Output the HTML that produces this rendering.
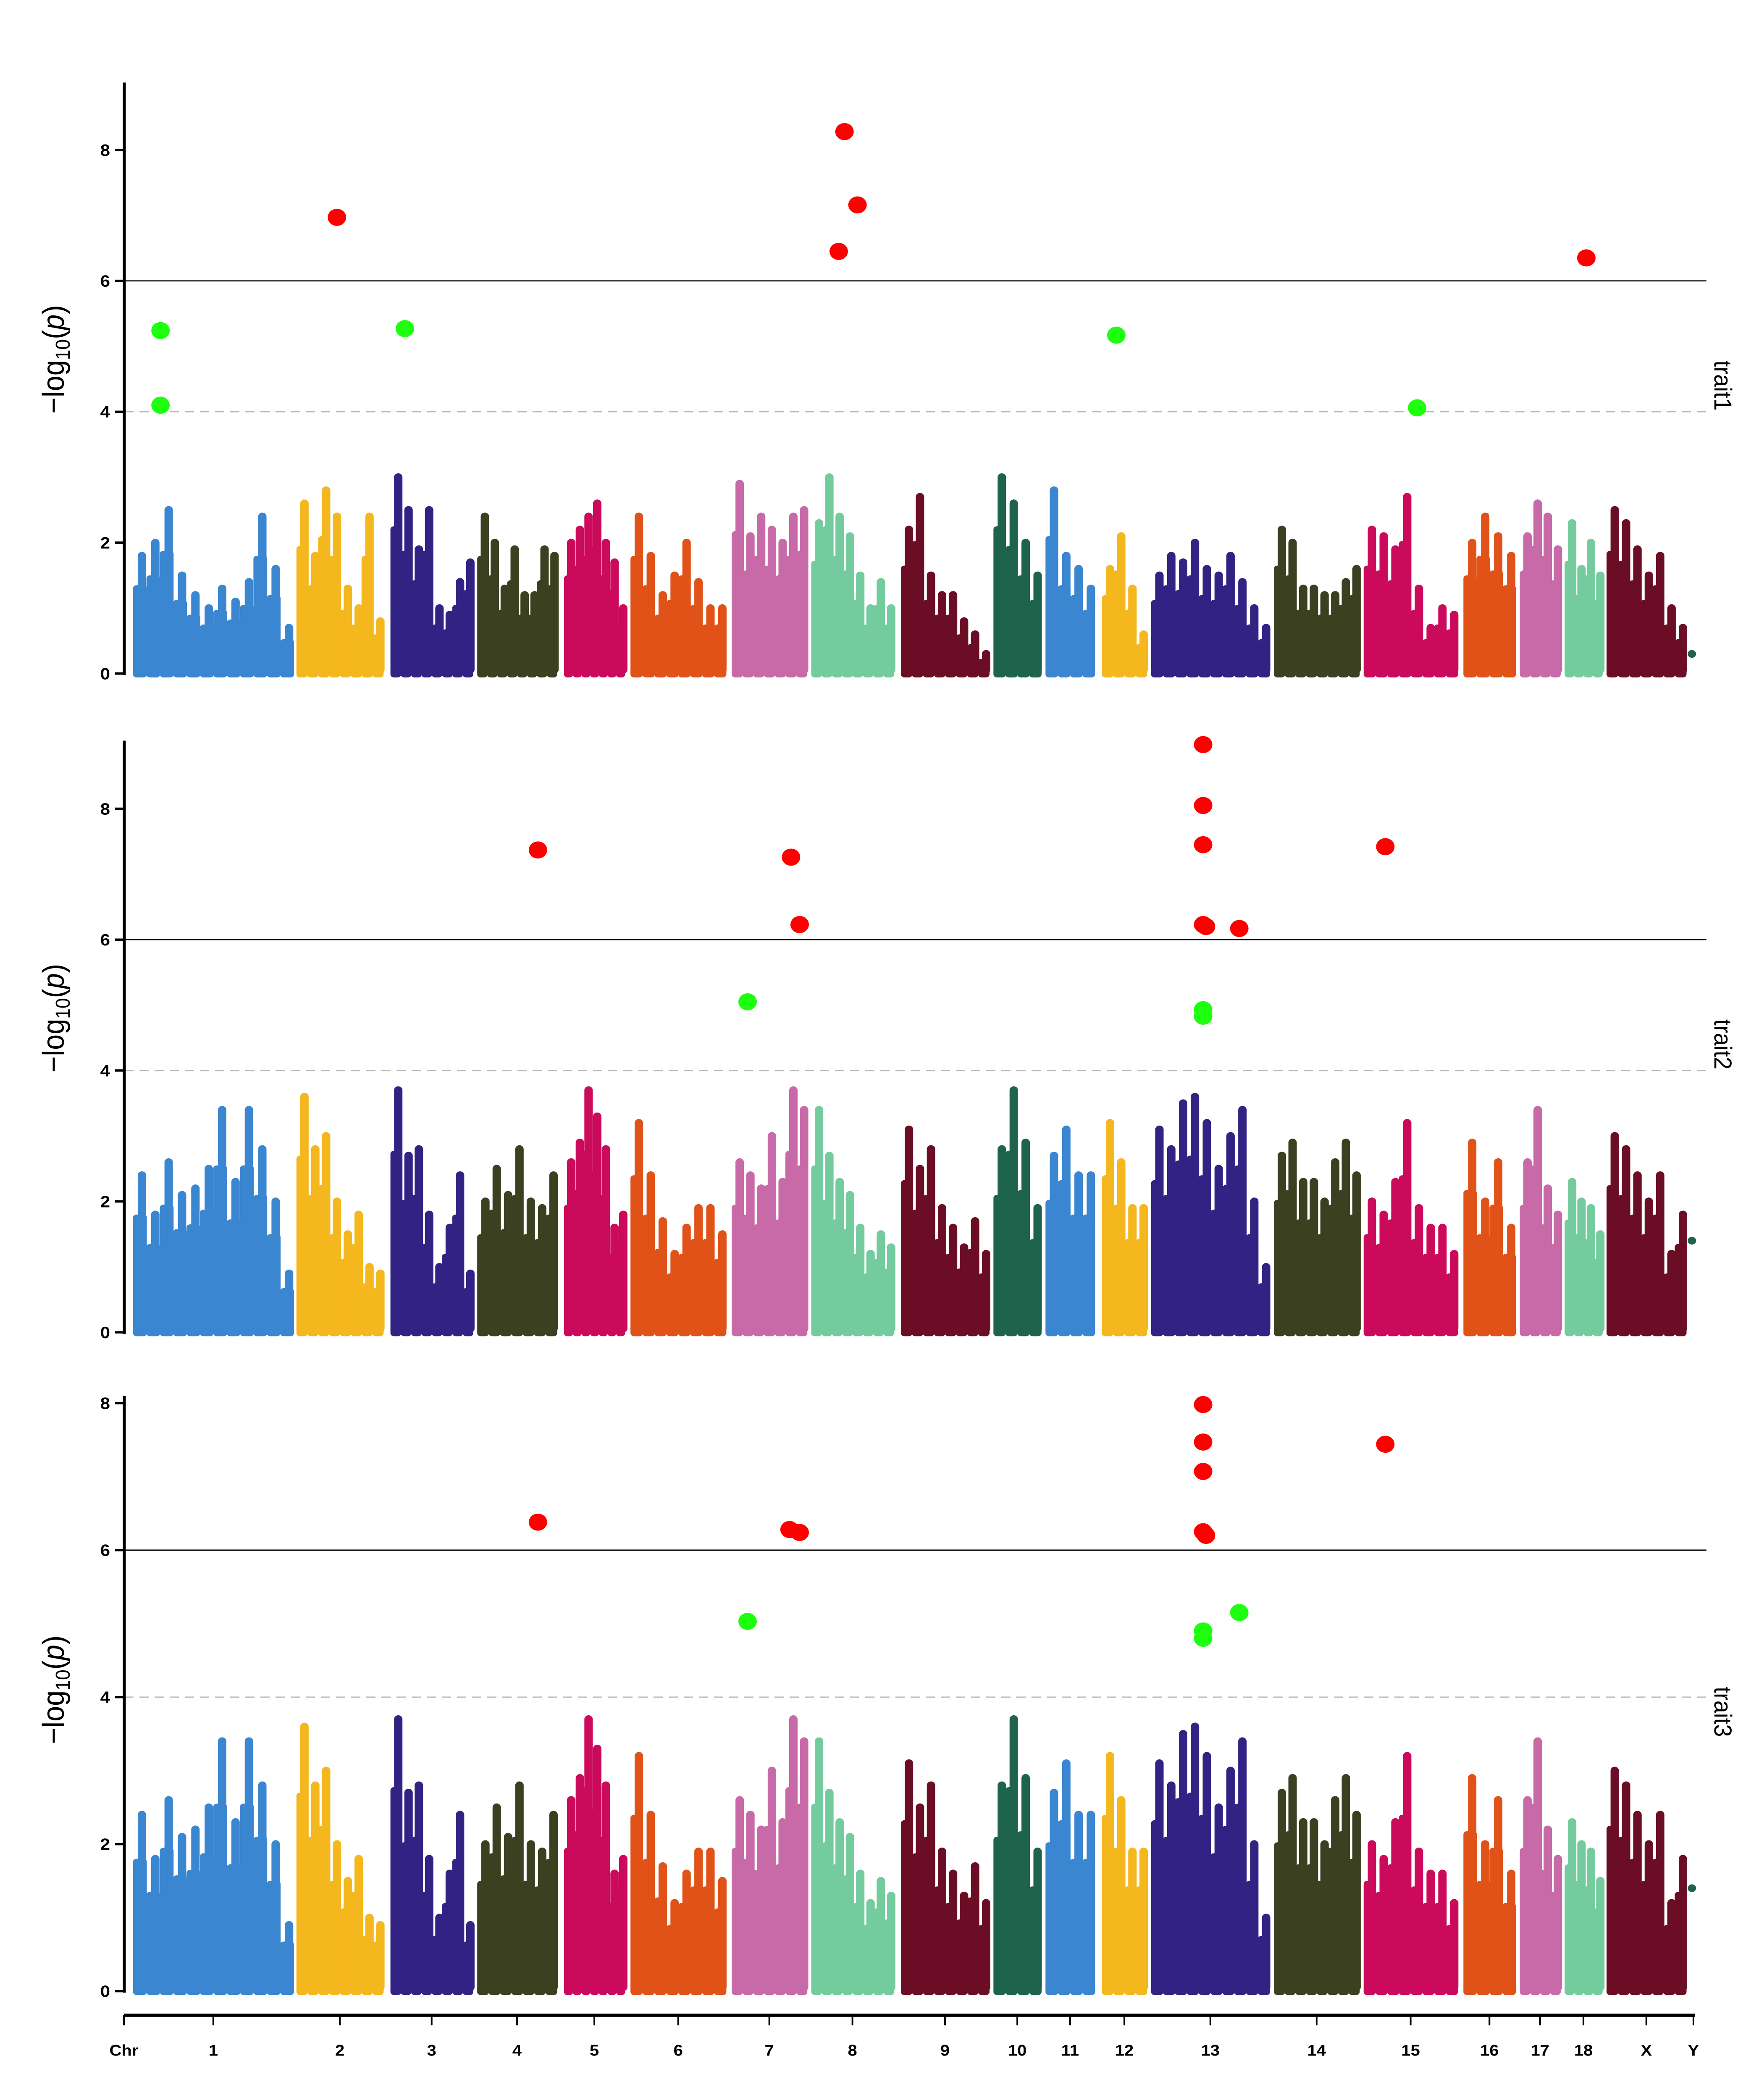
<!DOCTYPE html>
<html><head><meta charset="utf-8"><style>
html,body{margin:0;padding:0;background:#fff;width:100%;height:100%;overflow:hidden}
svg{display:block;position:absolute;left:0;top:0;width:100vw;height:100vh}
text{font-family:"Liberation Sans",sans-serif}
</style></head><body>
<svg id="chart" viewBox="0 0 4200 5400" preserveAspectRatio="none" xmlns="http://www.w3.org/2000/svg"></svg>
<script>
// ---- data ----
const chrNames = ["1","2","3","4","5","6","7","8","9","10","11","12","13","14","15","16","17","18","X","Y"];
const chrStart = [92,205,270,330,390,436,506,561,623,687,723,762,796,881,943,1012,1051,1082,1111,1168];
const chrEnd   = [203,265,327,385,432,502,558,618,684,720,757,793,878,940,1008,1048,1079,1108,1166,1172];
const chrColors = ["#3a86d0","#f4b71d","#312283","#3a4020","#cc0a5c","#e05218","#c86aa8","#74cc9e","#6a0d25","#1e634b","#3a86d0","#f4b71d","#312283","#3a4020","#cc0a5c","#e05218","#c86aa8","#74cc9e","#6a0d25","#1e634b"];
const trait1Profile = [
 [1.8,2.0,2.5,1.5,1.2,1.0,1.3,1.1,1.4,2.4,1.6,0.7],
 [2.6,1.8,2.8,2.4,1.3,1.0,2.4,0.8],
 [3.0,2.5,1.9,2.5,1.0,0.9,1.4,1.7],
 [2.4,2.0,1.3,1.9,1.2,1.2,1.9,1.8],
 [2.0,2.2,2.4,2.6,2.0,1.7,1.0],
 [2.4,1.8,1.2,1.5,2.0,1.4,1.0,1.0],
 [2.9,2.1,2.4,2.2,2.0,2.4,2.5],
 [2.3,3.0,2.4,2.1,1.5,1.0,1.4,1.0],
 [2.2,2.7,1.5,1.2,1.2,0.8,0.6,0.3],
 [3.0,2.6,2.0,1.5],
 [2.8,1.8,1.6,1.3],
 [1.6,2.1,1.3,0.6],
 [1.5,1.8,1.7,2.0,1.6,1.5,1.8,1.4,1.0,0.7],
 [2.2,2.0,1.3,1.3,1.2,1.2,1.4,1.6],
 [2.2,2.1,1.9,2.7,1.3,0.7,1.0,0.9],
 [2.0,2.4,2.1,1.8],
 [2.1,2.6,2.4,1.9],
 [2.3,1.6,2.0,1.5],
 [2.5,2.3,1.9,1.5,1.8,1.0,0.7],
 [0.3]];
const trait2Profile = [
 [2.4,1.8,2.6,2.1,2.2,2.5,3.4,2.3,3.4,2.8,2.0,0.9],
 [3.6,2.8,3.0,2.0,1.5,1.8,1.0,0.9],
 [3.7,2.7,2.8,1.8,1.0,1.6,2.4,0.9],
 [2.0,2.5,2.1,2.8,2.0,1.9,2.4],
 [2.6,2.9,3.7,3.3,2.8,1.6,1.8],
 [3.2,2.4,1.7,1.2,1.6,1.9,1.9,1.5],
 [2.6,2.4,2.2,3.0,2.3,3.7,3.4],
 [3.4,2.7,2.3,2.1,1.6,1.2,1.5,1.3],
 [3.1,2.5,2.8,1.9,1.6,1.3,1.7,1.2],
 [2.8,3.7,2.9,1.9],
 [2.7,3.1,2.4,2.4],
 [3.2,2.6,1.9,1.9],
 [3.1,2.8,3.5,3.6,3.2,2.5,3.0,3.4,2.0,1.0],
 [2.7,2.9,2.3,2.3,2.0,2.6,2.9,2.4],
 [2.0,1.8,2.3,3.2,1.9,1.6,1.6,1.2],
 [2.9,2.0,2.6,1.6],
 [2.6,3.4,2.2,1.8],
 [2.3,2.0,1.9,1.5],
 [3.0,2.8,2.4,2.0,2.4,1.2,1.8],
 [1.4]];
const trait3Profile = trait2Profile;
const t1RedPos = [233,580,584,593,1097];
const t1RedVal = [6.97,6.45,8.28,7.16,6.35];
const t1GreenPos = [111,111,280,772,980];
const t1GreenVal = [5.24,4.1,5.27,5.17,4.06];
const t2RedPos = [372,547,553,832,832,832,832,834,857,958];
const t2RedVal = [7.37,7.26,6.23,8.98,8.05,7.45,6.23,6.2,6.17,7.42];
const t2GreenPos = [517,832,832];
const t2GreenVal = [5.05,4.93,4.83];
const t3RedPos = [372,546,553,832,832,832,832,834,958];
const t3RedVal = [6.38,6.28,6.24,7.98,7.47,7.07,6.25,6.2,7.44];
const t3GreenPos = [517,832,832,857];
const t3GreenVal = [5.03,4.9,4.8,5.15];
const yTicks1 = [0,2,4,6,8];
const yTicks3 = [0,2,4,6,8];

// ---- drawing ----
const NS="http://www.w3.org/2000/svg";
const svg=document.getElementById('chart');
const S=3.443;
function xScale(p){return p*S;}
function mk(tag,attrs,parent){const e=document.createElementNS(NS,tag);for(const k in attrs)e.setAttribute(k,attrs[k]);(parent||svg).appendChild(e);return e;}

const panels=[
 {name:"trait1",y0:1732,unit:168.3,top:9.03,prof:trait1Profile,rp:t1RedPos,rv:t1RedVal,gp:t1GreenPos,gv:t1GreenVal,ticks:yTicks1},
 {name:"trait2",y0:3426,unit:168.3,top:9.04,prof:trait2Profile,rp:t2RedPos,rv:t2RedVal,gp:t2GreenPos,gv:t2GreenVal,ticks:yTicks1},
 {name:"trait3",y0:5120,unit:189,top:8.1,prof:trait3Profile,rp:t3RedPos,rv:t3RedVal,gp:t3GreenPos,gv:t3GreenVal,ticks:yTicks3}
];
const AX=296, RIGHT=4063;

panels.forEach((P)=>{
 const g=mk('g',{});
 
 
 const y=v=>P.y0-P.unit*v;
 const l6=mk('line',{x1:AX,x2:RIGHT,y1:y(6),y2:y(6),stroke:'#000','stroke-width':3},g);
 
 
 const l4=mk('line',{x1:AX,x2:RIGHT,y1:y(4),y2:y(4),stroke:'#bbb','stroke-width':3,'stroke-dasharray':'22 14'},g);
 
 
 P.prof.forEach((arr,ci)=>{
  const s=xScale(chrStart[ci]), e=xScale(chrEnd[ci]);
  const w=(e-s)/arr.length;
  const cg=mk('g',{fill:chrColors[ci]},g);
  
  
  arr.forEach((v,i)=>{
   const x=s+i*w, top=y(v);
   if(ci===19){
    const c=mk('circle',{cx:x+w/2,cy:top,r:10},cg);
    
    
    return;
   }
   const core=y(v*0.75);
   const r=mk('rect',{x:x,y:core,width:w+1,height:P.y0+10-core,rx:8},cg);
   
   
   const r2=mk('rect',{x:x+w*0.35,y:top-10,width:20,height:P.y0-top+10,rx:10},cg);
   
   
  });
 });
 P.gp.forEach((p,i)=>{
  const c=mk('circle',{cx:xScale(p),cy:y(P.gv[i]),r:22,fill:'#1eff10'},g);
  
  
 });
 P.rp.forEach((p,i)=>{
  const c=mk('circle',{cx:xScale(p),cy:y(P.rv[i]),r:22,fill:'#ff0000'},g);
  
  
 });
 const ax=mk('line',{x1:AX,x2:AX,y1:y(0)+4,y2:y(P.top),stroke:'#000','stroke-width':7},g);
 
 
 P.ticks.forEach(t=>{
  if(t>P.top)return;
  const tl=mk('line',{x1:AX-22,x2:AX,y1:y(t),y2:y(t),stroke:'#000','stroke-width':6},g);
  
  
  const tx=mk('text',{x:AX-34,y:y(t)+15,'text-anchor':'end','font-size':42,'font-weight':'bold'},g);
  tx.textContent=t;
  
  
 });
 const cy=y(P.name==='trait3'?4.1:4.8);
 const tt=mk('text',{x:0,y:0,'text-anchor':'middle','font-size':72,transform:`translate(152,${cy}) rotate(-90)`},g);
 tt.innerHTML='\u2212log<tspan font-size="48" dy="14">10</tspan><tspan dy="-14">(</tspan><tspan font-style="italic">p</tspan>)';
 
 
 const tr=mk('text',{x:0,y:0,'text-anchor':'middle','font-size':58,transform:`translate(4082,${y(P.name==='trait3'?3.8:4.4)}) rotate(90)`},g);
 tr.textContent=P.name;
 
 
});

const xg=mk('g',{});


const xl=mk('line',{x1:295,x2:4035,y1:5182,y2:5182,stroke:'#000','stroke-width':8},xg);


const tickXs=[295];
const labels=["Chr"];
chrNames.forEach((n,i)=>{tickXs.push(i===19?4032:xScale((chrStart[i]+chrEnd[i])/2));labels.push(n);});
tickXs.forEach((x,i)=>{
 const t=mk('line',{x1:x,x2:x,y1:5182,y2:5208,stroke:'#000','stroke-width':4},xg);
 
 
 const tx=mk('text',{x:x,y:5286,'text-anchor':'middle','font-size':40,'font-weight':'bold'},xg);
 tx.textContent=labels[i];
 
 
});
</script>
</body></html>
